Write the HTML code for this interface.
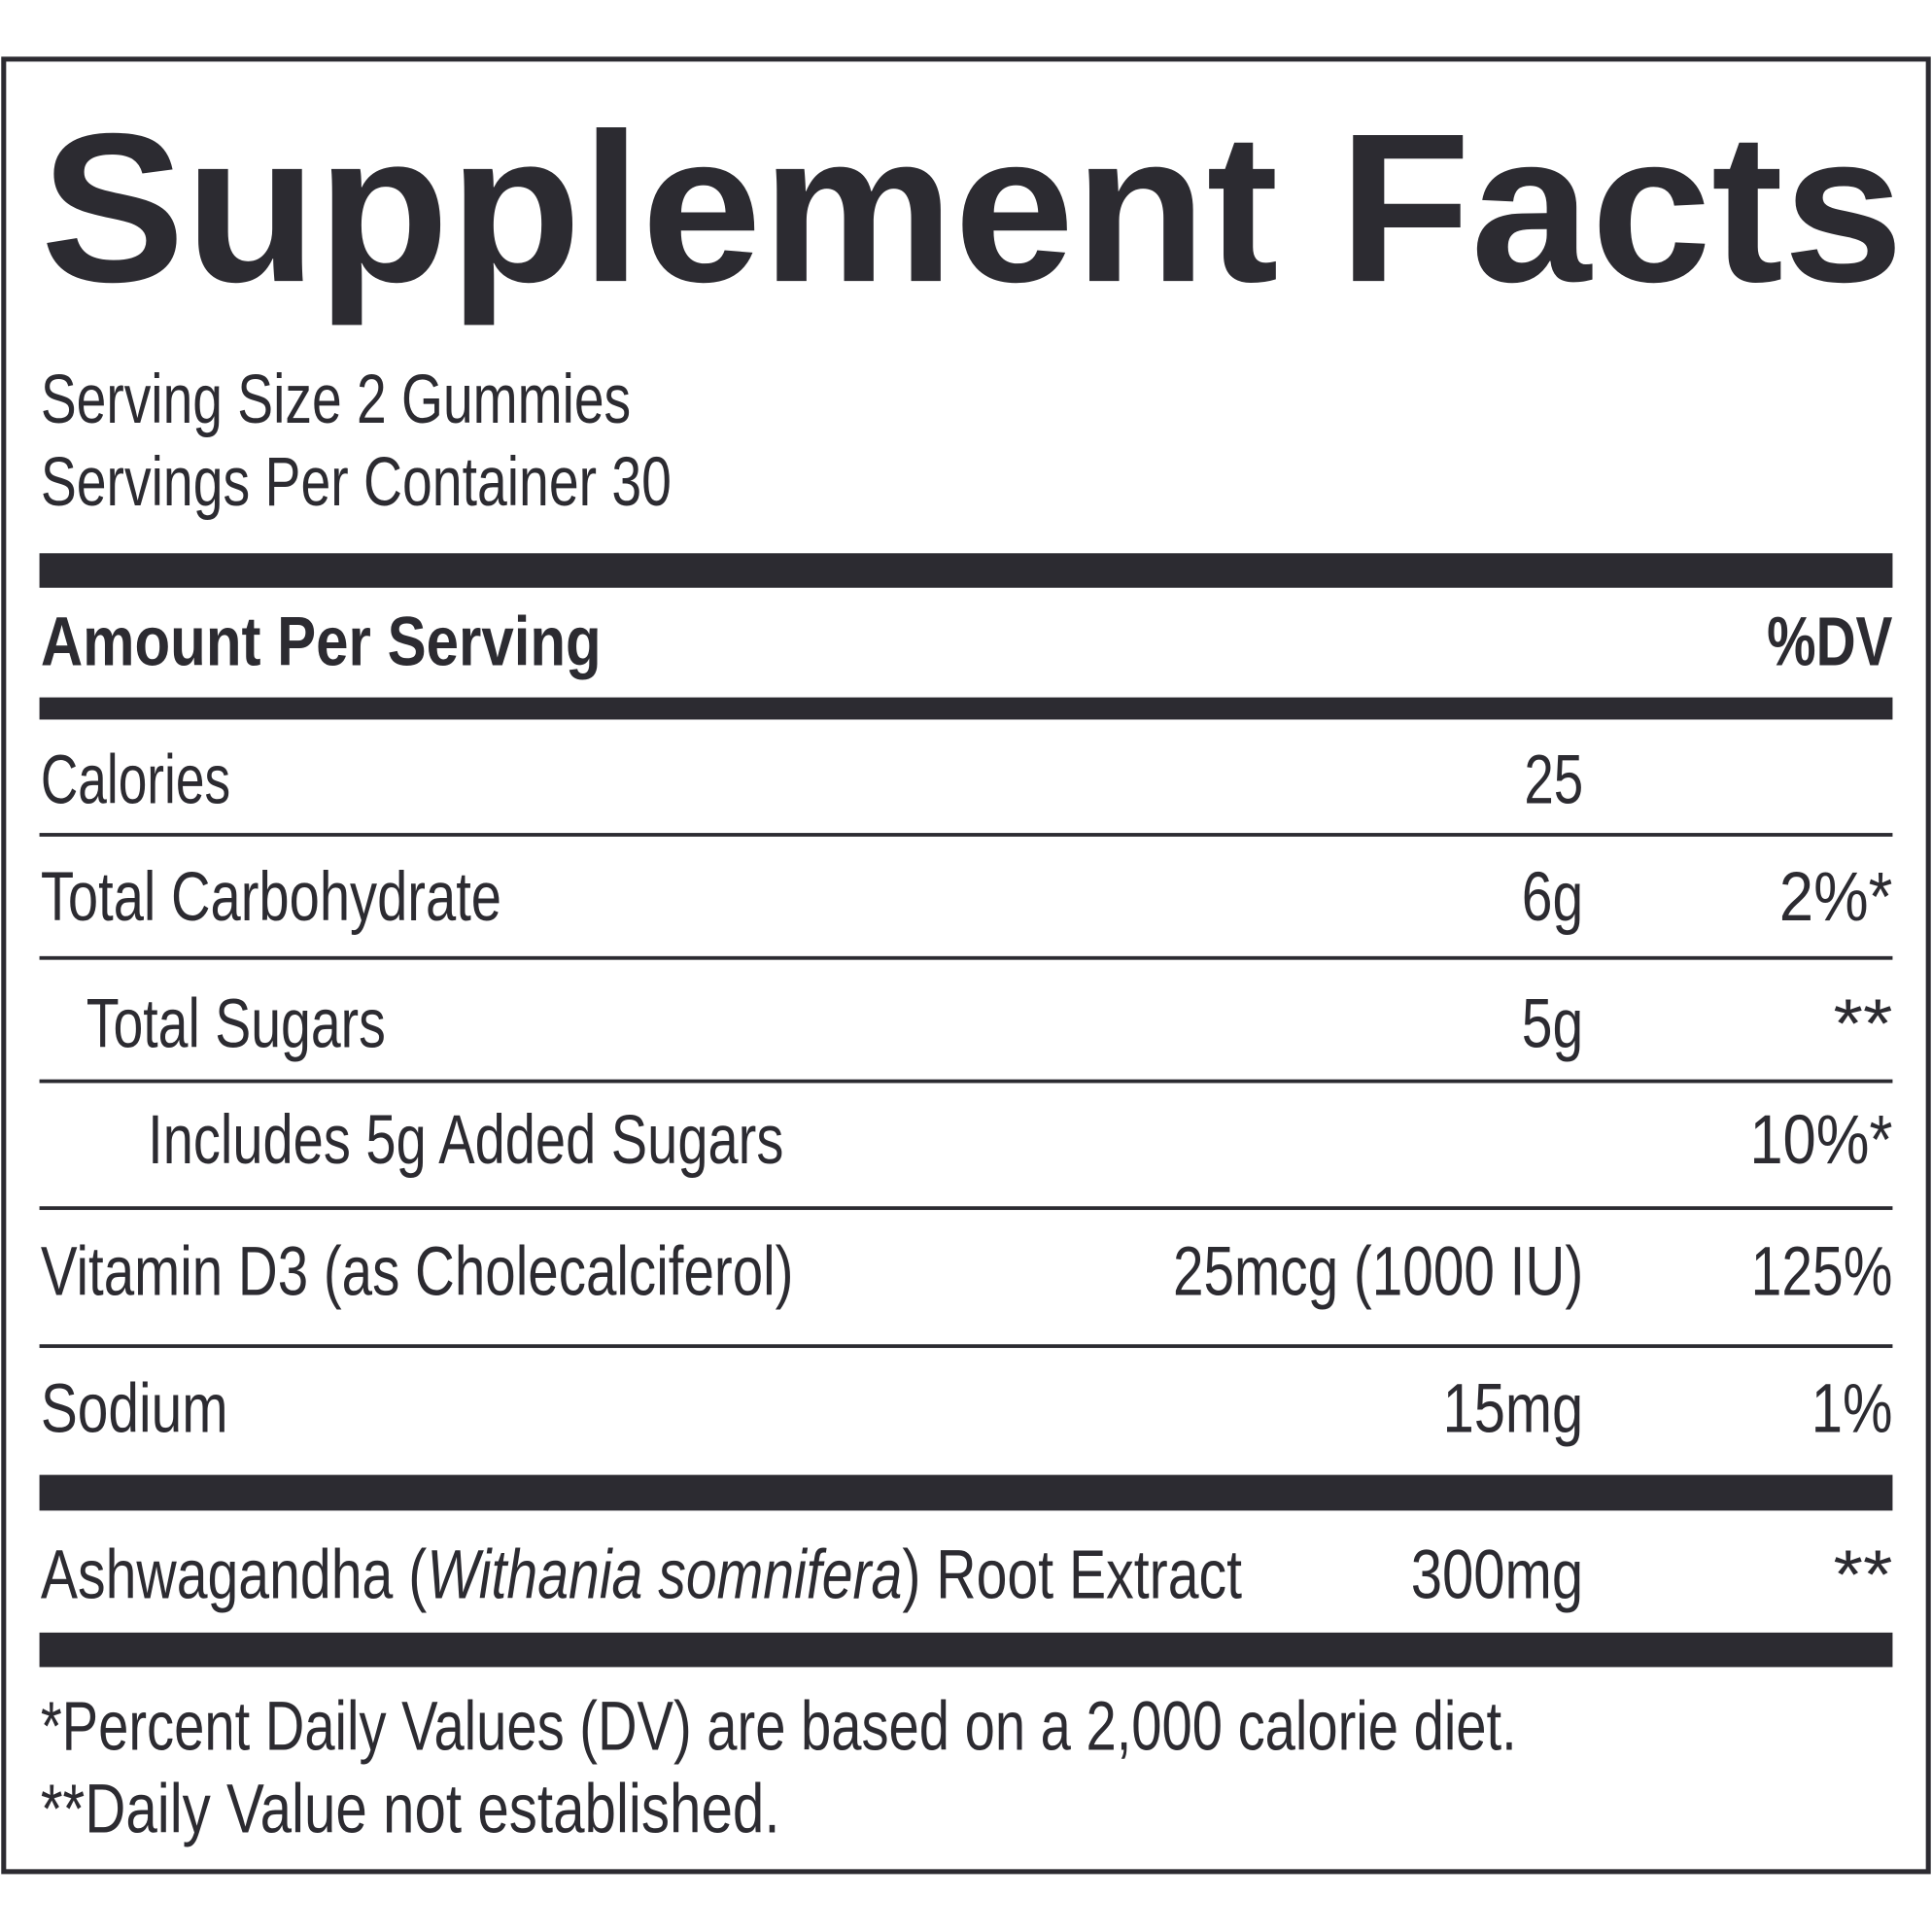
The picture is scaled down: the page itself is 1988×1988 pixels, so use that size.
<!DOCTYPE html>
<html><head><meta charset="utf-8"><style>
html,body{margin:0;padding:0;background:#fff;}
svg{display:block;}
text{font-family:"Liberation Sans",sans-serif;fill:#2c2b31;}
</style></head><body>
<svg width="1988" height="1988" viewBox="0 0 1568 1568" xmlns="http://www.w3.org/2000/svg">
<rect x="3" y="48" width="1562" height="1471" fill="none" stroke="#2c2b31" stroke-width="4"/>
<text x="33" y="228" font-size="172" font-weight="bold" textLength="1512" lengthAdjust="spacingAndGlyphs">Supplement Facts</text>
<text x="33" y="343" font-size="56" textLength="479" lengthAdjust="spacingAndGlyphs">Serving Size 2 Gummies</text>
<text x="33" y="410" font-size="56" textLength="512" lengthAdjust="spacingAndGlyphs">Servings Per Container 30</text>
<rect x="32" y="449" width="1504" height="28" fill="#2c2b31"/>
<text x="33" y="540" font-size="56" font-weight="bold" textLength="455" lengthAdjust="spacingAndGlyphs">Amount Per Serving</text>
<text x="1536" y="540" font-size="56" font-weight="bold" text-anchor="end" textLength="102" lengthAdjust="spacingAndGlyphs">%DV</text>
<rect x="32" y="566" width="1504" height="18" fill="#2c2b31"/>

<g>
<text x="33" y="652" font-size="56" textLength="154" lengthAdjust="spacingAndGlyphs">Calories</text>
<text x="1285" y="652" font-size="56" text-anchor="end" textLength="48" lengthAdjust="spacingAndGlyphs">25</text>
</g>
<rect x="32" y="676" width="1504" height="3" fill="#2c2b31"/>
<g>
<text x="33" y="747" font-size="56" textLength="374" lengthAdjust="spacingAndGlyphs">Total Carbohydrate</text>
<text x="1285" y="747" font-size="56" text-anchor="end" textLength="50" lengthAdjust="spacingAndGlyphs">6g</text>
<text x="1536" y="747" font-size="56" text-anchor="end" textLength="92" lengthAdjust="spacingAndGlyphs">2%*</text>
</g>
<rect x="32" y="776" width="1504" height="3" fill="#2c2b31"/>
<g>
<text x="70" y="850" font-size="56" textLength="243" lengthAdjust="spacingAndGlyphs">Total Sugars</text>
<text x="1285" y="850" font-size="56" text-anchor="end" textLength="50" lengthAdjust="spacingAndGlyphs">5g</text>
<text x="1536" y="850" font-size="56" text-anchor="end" textLength="48" lengthAdjust="spacingAndGlyphs">**</text>
</g>
<rect x="32" y="876" width="1504" height="3" fill="#2c2b31"/>
<g>
<text x="120" y="944" font-size="56" textLength="516" lengthAdjust="spacingAndGlyphs">Includes 5g Added Sugars</text>
<text x="1536" y="944" font-size="56" text-anchor="end" textLength="116" lengthAdjust="spacingAndGlyphs">10%*</text>
</g>
<rect x="32" y="979" width="1504" height="3" fill="#2c2b31"/>
<g>
<text x="33" y="1051" font-size="56" textLength="611" lengthAdjust="spacingAndGlyphs">Vitamin D3 (as Cholecalciferol)</text>
<text x="1285" y="1051" font-size="56" text-anchor="end" textLength="333" lengthAdjust="spacingAndGlyphs">25mcg (1000 IU)</text>
<text x="1536" y="1051" font-size="56" text-anchor="end" textLength="115" lengthAdjust="spacingAndGlyphs">125%</text>
</g>
<rect x="32" y="1091" width="1504" height="3" fill="#2c2b31"/>
<g>
<text x="33" y="1162" font-size="56" textLength="152" lengthAdjust="spacingAndGlyphs">Sodium</text>
<text x="1285" y="1162" font-size="56" text-anchor="end" textLength="114" lengthAdjust="spacingAndGlyphs">15mg</text>
<text x="1536" y="1162" font-size="56" text-anchor="end" textLength="66" lengthAdjust="spacingAndGlyphs">1%</text>
</g>
<rect x="32" y="1197" width="1504" height="29" fill="#2c2b31"/>
<g>
<text x="33" y="1297" font-size="56" textLength="975" lengthAdjust="spacingAndGlyphs">Ashwagandha (<tspan font-style="italic">Withania somnifera</tspan>) Root Extract</text>
<text x="1285" y="1297" font-size="56" text-anchor="end" textLength="140" lengthAdjust="spacingAndGlyphs">300mg</text>
<text x="1536" y="1297" font-size="56" text-anchor="end" textLength="48" lengthAdjust="spacingAndGlyphs">**</text>
</g>
<rect x="32" y="1325" width="1504" height="28" fill="#2c2b31"/>
<text x="33" y="1420" font-size="56" textLength="1198" lengthAdjust="spacingAndGlyphs">*Percent Daily Values (DV) are based on a 2,000 calorie diet.</text>
<text x="33" y="1487" font-size="56" textLength="600" lengthAdjust="spacingAndGlyphs">**Daily Value not established.</text>
</svg>
</body></html>
